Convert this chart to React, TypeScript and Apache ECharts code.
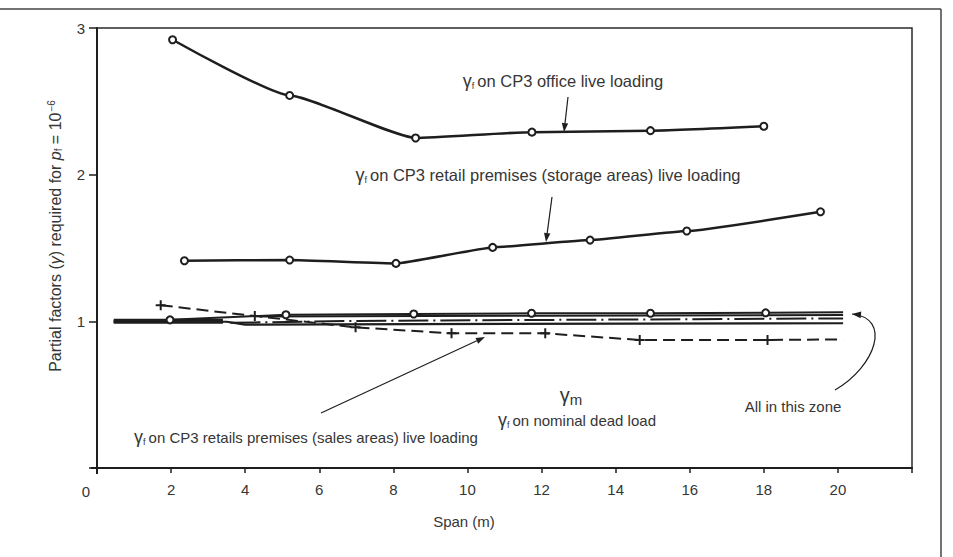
import React, { useEffect, useRef } from "react";
import * as echarts from "echarts";

// Span axis ticks (m) and partial-factor axis ticks
const spanTicks = [0, 2, 4, 6, 8, 10, 12, 14, 16, 18, 20, 22];
const factorTicks = [0, 1, 2, 3];

// γf on CP3 office live loading
const officeLive: number[][] = [
  [2.04, 2.92], [5.2, 2.54], [8.6, 2.25], [11.74, 2.29], [14.94, 2.3], [18.0, 2.33],
];
// γf on CP3 retail premises (storage areas) live loading
const storageLive: number[][] = [
  [2.36, 1.413], [5.2, 1.418], [8.07, 1.395], [10.68, 1.504], [13.31, 1.554], [15.92, 1.616], [19.53, 1.747],
];
// γf on CP3 retail premises (sales areas) live loading, last point is the line end
const salesLive: number[][] = [
  [1.72, 1.11], [4.26, 1.036], [6.98, 0.959], [9.57, 0.918], [12.1, 0.918], [14.65, 0.873], [18.1, 0.873], [20.14, 0.877],
];
// Lines bunched near 1.0 (γm and γf on nominal dead load)
const zoneCircles: number[][] = [
  [0.45, 1.0], [1.97, 1.01], [5.1, 1.045], [8.55, 1.05], [11.73, 1.055], [14.94, 1.055], [18.05, 1.058], [20.14, 1.062],
];
const zoneUpper: number[][] = [[4.4, 1.033], [12.0, 1.038], [20.14, 1.043]];
const zoneDashDot: number[][] = [[3.6, 0.99], [7.0, 1.003], [20.14, 1.02]];
const zoneLower: number[][] = [[0.45, 0.997], [3.5, 0.997], [4.0, 0.977], [8.5, 0.981], [20.14, 0.987]];
const zoneHeavy: number[][] = [[0.45, 1.0], [3.4, 1.0]];

const INK = "#1e1e1e";
const TEXT = "#363636";
const SANS = "'Liberation Sans', Arial, sans-serif";
const PLUS = "path://M4,0H6V4H10V6H6V10H4V6H0V4H4Z";

function arrow(x1: number, y1: number, x2: number, y2: number, head = 9, half = 3.2) {
  const a = Math.atan2(y2 - y1, x2 - x1);
  const bx = x2 - head * Math.cos(a);
  const by = y2 - head * Math.sin(a);
  const px = -Math.sin(a) * half;
  const py = Math.cos(a) * half;
  return [
    { type: "line", shape: { x1, y1, x2: bx, y2: by }, style: { stroke: INK, lineWidth: 1.2 } },
    {
      type: "polygon",
      shape: { points: [[x2, y2], [bx + px, by + py], [bx - px, by - py]] },
      style: { fill: INK },
    },
  ];
}

const gammaRich = {
  g: { fontSize: 18, fontFamily: SANS, fill: TEXT },
  f: { fontSize: 9, fontFamily: SANS, fill: TEXT, verticalAlign: "bottom", padding: [7, 3, 0, 0] },
  t: { fontSize: 16.5, fontFamily: SANS, fill: TEXT },
  n: { fontSize: 15, fontFamily: SANS, fill: TEXT },
};

function label(x: number, y: number, text: string, extra: any = {}) {
  return {
    type: "text",
    x,
    y,
    style: {
      text,
      rich: gammaRich,
      align: "center",
      verticalAlign: "middle",
      fill: TEXT,
      ...extra,
    },
  };
}

function withEnds(points: number[][], keepFirst: boolean) {
  return points.map((p, i) => {
    const isEnd = (i === 0 && !keepFirst) || i === points.length - 1;
    return isEnd ? { value: p, symbol: "none" } : { value: p };
  });
}

export default function App() {
  const ref = useRef<HTMLDivElement>(null);

  useEffect(() => {
    if (!ref.current) return;
    const chart = echarts.init(ref.current, null, { renderer: "svg" });

    const curved = { x1: 835, y1: 390, cpx1: 876, cpy1: 366, cpx2: 892, cpy2: 318, x2: 852, y2: 314 };
    const ca = Math.atan2(curved.y2 - curved.cpy2, curved.x2 - curved.cpx2);
    const hb = { x: curved.x2 - 9 * Math.cos(ca), y: curved.y2 - 9 * Math.sin(ca) };
    const hp = { x: -Math.sin(ca) * 3.4, y: Math.cos(ca) * 3.4 };

    chart.setOption({
      animation: false,
      backgroundColor: "#ffffff",
      grid: {
        left: 97,
        top: 28,
        width: 815,
        height: 440,
        show: true,
        borderColor: "#2a2a2a",
        borderWidth: 1.5,
      },
      xAxis: {
        type: "value",
        min: spanTicks[0],
        max: spanTicks[spanTicks.length - 1],
        interval: 2,
        axisLine: { show: true, lineStyle: { color: INK, width: 2 } },
        axisTick: { show: true, length: 5, lineStyle: { color: INK, width: 1.5 } },
        splitLine: { show: false },
        axisLabel: {
          margin: 14,
          color: TEXT,
          fontSize: 15,
          fontFamily: SANS,
          formatter: (v: number) => (v === 0 || v === 22 ? "" : String(v)),
        },
      },
      yAxis: {
        type: "value",
        min: factorTicks[0],
        max: factorTicks[factorTicks.length - 1],
        interval: 1,
        axisLine: { show: true, lineStyle: { color: INK, width: 2 } },
        axisTick: { show: true, length: 8, lineStyle: { color: INK, width: 1.5 } },
        splitLine: { show: false },
        axisLabel: {
          margin: 12,
          color: TEXT,
          fontSize: 15,
          fontFamily: SANS,
          formatter: (v: number) => (v === 0 ? "" : String(v)),
        },
      },
      series: [
        {
          type: "line",
          data: zoneHeavy,
          symbol: "none",
          lineStyle: { color: INK, width: 5 },
        },
        {
          type: "line",
          data: zoneLower,
          symbol: "none",
          lineStyle: { color: INK, width: 2.2 },
        },
        {
          type: "line",
          data: zoneDashDot,
          symbol: "none",
          lineStyle: { color: INK, width: 2, type: [30, 5, 2, 5] },
        },
        {
          type: "line",
          data: zoneUpper,
          symbol: "none",
          lineStyle: { color: INK, width: 2 },
        },
        {
          type: "line",
          data: withEnds(zoneCircles, false),
          symbol: "emptyCircle",
          symbolSize: 7,
          itemStyle: { color: INK, borderWidth: 2 },
          lineStyle: { color: INK, width: 2 },
        },
        {
          type: "line",
          data: withEnds(salesLive, true),
          symbol: PLUS,
          symbolSize: 10,
          itemStyle: { color: INK },
          lineStyle: { color: INK, width: 2, type: [12, 6] },
        },
        {
          type: "line",
          data: storageLive,
          smooth: 0.1,
          smoothMonotone: "x",
          symbol: "emptyCircle",
          symbolSize: 7,
          itemStyle: { color: INK, borderWidth: 2 },
          lineStyle: { color: INK, width: 2.5 },
        },
        {
          type: "line",
          data: officeLive,
          smooth: 0.15,
          smoothMonotone: "x",
          symbol: "emptyCircle",
          symbolSize: 7,
          itemStyle: { color: INK, borderWidth: 2 },
          lineStyle: { color: INK, width: 2.5 },
        },
      ],
      graphic: [
        // outer frame
        { type: "line", shape: { x1: 0, y1: 9, x2: 941, y2: 9 }, style: { stroke: "#444", lineWidth: 1.5 } },
        { type: "line", shape: { x1: 941, y1: 9, x2: 941, y2: 557 }, style: { stroke: "#444", lineWidth: 1.5 } },
        // axis overhang at the origin
        { type: "line", shape: { x1: 91, y1: 468, x2: 97, y2: 468 }, style: { stroke: INK, lineWidth: 2 } },
        { type: "line", shape: { x1: 97, y1: 468, x2: 97, y2: 474 }, style: { stroke: INK, lineWidth: 2 } },
        // axis titles
        label(86, 491, "{n|0}"),
        label(464, 521, "{n|Span (m)}"),
        {
          type: "text",
          x: 55,
          y: 236,
          rotation: Math.PI / 2,
          style: {
            text: "{t|Partial factors (}{i|γ}{t|) required for }{i|p}{s|f}{t| = 10}{u|−6}",
            rich: {
              t: { fontSize: 16, fontFamily: SANS, fill: TEXT },
              i: { fontSize: 16, fontFamily: SANS, fontStyle: "italic", fill: TEXT },
              s: { fontSize: 10, fontFamily: SANS, fill: TEXT, verticalAlign: "bottom", padding: [7, 0, 0, 0] },
              u: { fontSize: 10, fontFamily: SANS, fill: TEXT, verticalAlign: "top", padding: [0, 0, 7, 1] },
            },
            align: "center",
            verticalAlign: "middle",
          },
        },
        // annotations
        label(563, 81, "{g|γ}{f|f}{t|on CP3 office live loading}"),
        ...arrow(568, 97, 564, 132),
        label(548, 175, "{g|γ}{f|f}{t|on CP3 retail premises (storage areas) live loading}"),
        ...arrow(552, 197, 546, 242),
        label(306, 437, "{g|γ}{f|f}{n|on CP3 retails premises (sales areas) live loading}"),
        ...arrow(321, 413, 485, 337),
        label(571, 395, "{gm|γ}{m|m}", {
          rich: {
            gm: { fontSize: 20, fontFamily: SANS, fill: TEXT },
            m: { fontSize: 15, fontFamily: SANS, fill: TEXT, verticalAlign: "bottom", padding: [9, 0, 0, 0] },
          },
        }),
        label(577, 420, "{g|γ}{f|f}{n|on nominal dead load}"),
        label(793, 406, "{n|All in this zone}"),
        {
          type: "bezierCurve",
          shape: curved,
          style: { stroke: INK, lineWidth: 1.2, fill: "none" },
        },
        {
          type: "polygon",
          shape: {
            points: [
              [curved.x2, curved.y2],
              [hb.x + hp.x, hb.y + hp.y],
              [hb.x - hp.x, hb.y - hp.y],
            ],
          },
          style: { fill: INK },
        },
      ],
    });

    return () => chart.dispose();
  }, []);

  return (
    <div
      ref={ref}
      style={{ position: "fixed", left: 0, top: 0, width: 953, height: 557, background: "#fff" }}
    />
  );
}
